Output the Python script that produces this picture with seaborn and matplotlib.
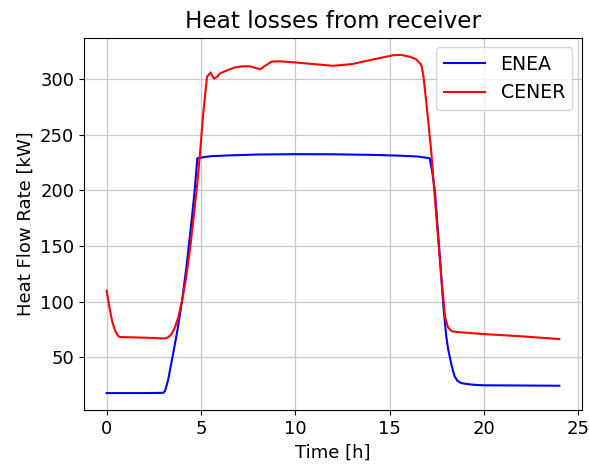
import matplotlib
matplotlib.use("Agg")
import matplotlib.pyplot as plt
import seaborn as sns
import pandas as pd

# ENEA receiver heat losses over the day
enea_time = [0, 1, 2, 3.0, 3.1, 3.25, 3.5, 3.75, 4.0, 4.25, 4.5, 4.65, 4.81,
             5.5, 6.5, 8, 10, 12, 14, 15.5, 16.5, 17.13, 17.25, 17.4, 17.55,
             17.7, 17.85, 18.0, 18.1, 18.2, 18.3, 18.45, 18.6, 18.8, 19.07,
             19.5, 20, 22, 24]
enea_loss = [18, 18, 18, 18.2, 20, 29, 51, 74, 101, 134, 172, 197, 229,
             230.8, 231.5, 232.3, 232.6, 232.5, 232, 231.3, 230.5, 229, 218,
             200, 167, 133, 97, 70, 58, 50, 42, 33, 29, 27, 26.2,
             25.4, 25, 24.8, 24.6]

# CENER receiver heat losses over the day
cener_time = [0, 0.15, 0.3, 0.45, 0.6, 0.7, 1.5, 2.5, 3.0, 3.2, 3.4, 3.6,
              3.8, 4.0, 4.2, 4.44, 4.6, 4.8, 4.95, 5.1, 5.32, 5.42, 5.51, 5.6,
              5.69, 5.85, 6.0, 6.4, 6.8, 7.2, 7.6, 7.9, 8.15, 8.4, 8.75, 9.2,
              10, 11, 12, 13, 13.8, 14.5, 15.2, 15.6, 16.1, 16.4, 16.6, 16.7,
              16.8, 16.95, 17.2, 17.48, 17.75, 17.95, 18.1, 18.3, 18.6, 19,
              20, 22, 24]
cener_loss = [110, 95, 82, 74, 69.5, 68.3, 68, 67.5, 67, 67.5, 70, 76,
              86, 101, 120, 150, 174, 205, 233, 265, 302, 304, 306, 303,
              300.5, 302, 305, 308, 310.5, 311.5, 311.5, 310, 309, 312, 315.8,
              316, 315, 313.5, 312, 313.5, 316.5, 319, 321.5, 321.8, 320, 318,
              314.5, 312, 302, 279, 237, 177, 120, 86, 77, 73.5, 72.8, 72.3,
              71, 69, 66.5]

series_names = ["ENEA", "CENER"]
series_colors = ["blue", "red"]

df = pd.concat([
    pd.DataFrame({"Time [h]": enea_time, "Heat Flow Rate [kW]": enea_loss,
                  "Source": series_names[0]}),
    pd.DataFrame({"Time [h]": cener_time, "Heat Flow Rate [kW]": cener_loss,
                  "Source": series_names[1]}),
], ignore_index=True)

plt.rcParams["font.family"] = ["DejaVu Sans"]

fig = plt.figure(figsize=(5.89, 4.66), dpi=100)
fig.subplots_adjust(left=0.1426, right=0.988, bottom=0.1202, top=0.9185)
ax = fig.add_subplot(111)

sns.lineplot(data=df, x="Time [h]", y="Heat Flow Rate [kW]", hue="Source",
             hue_order=series_names, palette=series_colors, linewidth=1.5,
             sort=False, estimator=None, ax=ax)

ax.set_xticks([0, 5, 10, 15, 20, 25])
ax.set_yticks([50, 100, 150, 200, 250, 300])
ax.tick_params(labelsize=13)
ax.set_xlabel("Time [h]", fontsize=13)
ax.set_ylabel("Heat Flow Rate [kW]", fontsize=13)
ax.set_title("Heat losses from receiver", fontsize=16.7, pad=7)
ax.grid(True, color="#c8c8c8", linewidth=0.9)
ax.set_axisbelow(True)
ax.legend(loc="upper right", fontsize=13.6, handlelength=2.2,
          borderaxespad=0.5)

fig.savefig("out.png", dpi=100)
